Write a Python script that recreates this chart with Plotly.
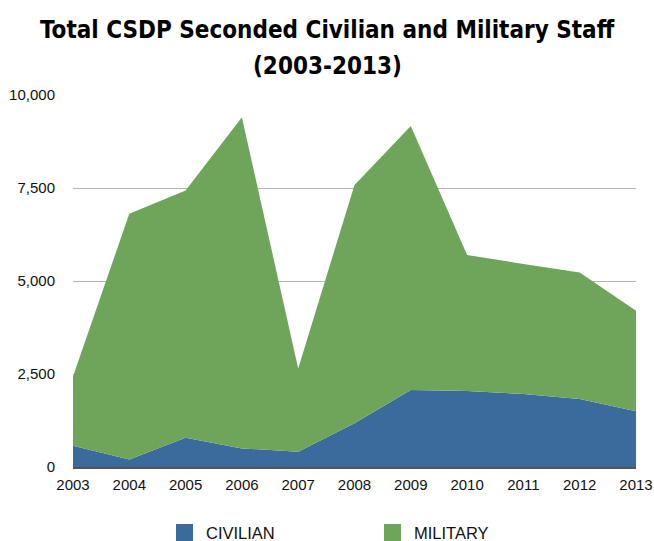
import plotly.graph_objects as go

years = [2003, 2004, 2005, 2006, 2007, 2008, 2009, 2010, 2011, 2012, 2013]
civilian = [570, 200, 785, 500, 410, 1175, 2070, 2040, 1965, 1830, 1500]
military = [1860, 6610, 6645, 8900, 2240, 6405, 7100, 3660, 3495, 3400, 2700]
y_ticks = [0, 2500, 5000, 7500, 10000]
title_lines = ["Total CSDP Seconded Civilian and Military Staff", "(2003-2013)"]

BLUE = "#3A6B9C"
GREEN = "#6EA55A"

W, H = 654, 541
L, R, T, B = 73, 18, 95, 74
PW, PH = W - L - R, H - T - B


def px_x(px):
    return (px - L) / PW


def px_y(py):
    return (H - B - py) / PH


fig = go.Figure()
fig.add_trace(go.Scatter(x=years, y=civilian, name="CIVILIAN", stackgroup="one",
                         mode="none", fillcolor=BLUE, hoverinfo="x+y"))
fig.add_trace(go.Scatter(x=years, y=military, name="MILITARY", stackgroup="one",
                         mode="none", fillcolor=GREEN, hoverinfo="x+y"))

fig.update_layout(
    width=W, height=H,
    margin=dict(l=L, r=R, t=T, b=B, autoexpand=False),
    paper_bgcolor="white", plot_bgcolor="white",
    showlegend=False,
    font=dict(family="Liberation Sans, Arial", size=15, color="#111"),
)
fig.update_xaxes(range=[2003, 2013], tickvals=years, ticktext=[str(y) for y in years],
                 showgrid=False, showline=True, linecolor="#555", linewidth=1.5,
                 ticks="", zeroline=False, fixedrange=True, ticklabelstandoff=3,
                 automargin=False)
fig.update_yaxes(range=[0, 10000], tickvals=y_ticks, tickformat=",",
                 showgrid=True, gridcolor="#b4b4b4", gridwidth=1.2,
                 zeroline=False, showline=False, ticks="", ticklabelstandoff=17,
                 fixedrange=True, automargin=False)

# Title as two centred lines
for line, py in zip(title_lines, [30, 66]):
    fig.add_annotation(text="<b>" + line + "</b>", xref="paper", yref="paper",
                       x=px_x(W / 2), y=px_y(py), xanchor="center", yanchor="middle",
                       showarrow=False,
                       font=dict(family="DejaVu Sans Condensed, DejaVu Sans", size=24, color="#000"))

# Legend drawn manually
legend_items = [("CIVILIAN", BLUE, 176), ("MILITARY", GREEN, 384)]
for label, color, px in legend_items:
    fig.add_shape(type="rect", xref="paper", yref="paper",
                  x0=px_x(px), x1=px_x(px + 17), y0=px_y(541), y1=px_y(524),
                  fillcolor=color, line=dict(width=0))
    fig.add_annotation(text=label, xref="paper", yref="paper",
                       x=px_x(px + 28), y=px_y(533),
                       xanchor="left", yanchor="middle", showarrow=False,
                       font=dict(family="Liberation Sans, Arial", size=16.5, color="#111"))

fig.write_html("out.html")
